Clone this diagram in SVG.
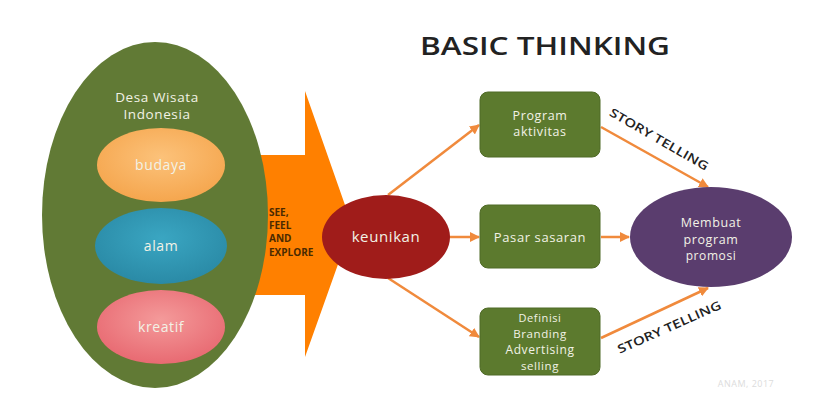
<svg xmlns="http://www.w3.org/2000/svg" width="832" height="412" viewBox="0 0 832 412">
<defs>
<style>
.t{font-family:"Open Sans","Liberation Sans",sans-serif;fill:#f2f2e6;text-anchor:middle;letter-spacing:0.6px}
.conn{stroke:#f08a3c;stroke-width:2.5;fill:none;marker-end:url(#ah)}
.box{fill:#5c7a2e;stroke:#4f6a26;stroke-width:1}
.lbl{font-family:"Open Sans","Liberation Sans",sans-serif;font-size:12px;font-weight:600;fill:#222}
.see{font-family:"Open Sans","Liberation Sans",sans-serif;font-size:10px;font-weight:bold;fill:#4a2a00}
</style>
<marker id="ah" viewBox="0 0 10 10" refX="9" refY="5" markerWidth="4" markerHeight="4" orient="auto" markerUnits="strokeWidth">
<path d="M0,0 L10,5 L0,10 z" fill="#f08a3c"/>
</marker>
<radialGradient id="gB" cx="50%" cy="40%" r="60%"><stop offset="0" stop-color="#fcc27a"/><stop offset="1" stop-color="#f5a64e"/></radialGradient>
<radialGradient id="gA" cx="50%" cy="40%" r="60%"><stop offset="0" stop-color="#3aa6c2"/><stop offset="1" stop-color="#2a8aa6"/></radialGradient>
<radialGradient id="gK" cx="50%" cy="40%" r="60%"><stop offset="0" stop-color="#f49a9a"/><stop offset="1" stop-color="#e86a72"/></radialGradient>
</defs>
<rect width="832" height="412" fill="#ffffff"/>
<text x="420" y="55" font-family="Open Sans, Liberation Sans, sans-serif" font-size="25" font-weight="600" fill="#222" textLength="250" lengthAdjust="spacingAndGlyphs">BASIC THINKING</text>

<g id="arrow-see">
<path d="M255,155 L305,155 L305,91 L352,225 L305,357 L305,295 L255,295 z" fill="#ff8000"/>
<text class="see" x="269" y="216">SEE,</text>
<text class="see" x="269" y="229">FEEL</text>
<text class="see" x="269" y="242">AND</text>
<text class="see" x="269" y="256">EXPLORE</text>
</g>

<g id="desa">
<ellipse cx="155" cy="215" rx="113" ry="173" fill="#617a35"/>
<text class="t" x="157" y="102" font-size="13.5">Desa Wisata</text>
<text class="t" x="157" y="119" font-size="13.5">Indonesia</text>
</g>
<g id="budaya">
<ellipse cx="161" cy="165" rx="64" ry="37" fill="url(#gB)"/>
<text class="t" x="161" y="170" font-size="14">budaya</text>
</g>
<g id="alam">
<ellipse cx="161" cy="246" rx="66" ry="38" fill="url(#gA)"/>
<text class="t" x="161" y="251" font-size="14">alam</text>
</g>
<g id="kreatif">
<ellipse cx="161" cy="327" rx="64" ry="37" fill="url(#gK)"/>
<text class="t" x="161" y="332" font-size="14">kreatif</text>
</g>

<g id="connectors">
<line class="conn" x1="388" y1="195" x2="479" y2="125"/>
<line class="conn" x1="450" y1="237" x2="479" y2="237"/>
<line class="conn" x1="388" y1="278" x2="479" y2="337"/>
<line class="conn" x1="601" y1="127" x2="708" y2="187"/>
<line class="conn" x1="601" y1="237" x2="629" y2="237"/>
<line class="conn" x1="601" y1="338" x2="708" y2="288"/>
<text class="lbl" transform="translate(657,143) rotate(30)" text-anchor="middle" textLength="112" lengthAdjust="spacingAndGlyphs">STORY TELLING</text>
<text class="lbl" transform="translate(671,331) rotate(-24)" text-anchor="middle" textLength="112" lengthAdjust="spacingAndGlyphs">STORY TELLING</text>
</g>

<g id="keunikan">
<ellipse cx="386" cy="237" rx="64" ry="42" fill="#a01c1a"/>
<text class="t" x="386" y="242" font-size="15">keunikan</text>
</g>

<g id="program">
<rect class="box" x="480" y="92" width="120" height="65" rx="8"/>
<text class="t" x="540" y="120" font-size="12.5">Program</text>
<text class="t" x="540" y="136" font-size="12.5">aktivitas</text>
</g>
<g id="pasar">
<rect class="box" x="480" y="205" width="120" height="63" rx="8"/>
<text class="t" x="540" y="242" font-size="13">Pasar sasaran</text>
</g>
<g id="definisi">
<rect class="box" x="480" y="308" width="120" height="67" rx="8"/>
<text class="t" x="540" y="322" font-size="11">Definisi</text>
<text class="t" x="540" y="338" font-size="11.5">Branding</text>
<text class="t" x="540" y="354" font-size="12">Advertising</text>
<text class="t" x="540" y="370" font-size="11.5">selling</text>
</g>
<g id="membuat">
<ellipse cx="711" cy="237" rx="81" ry="50" fill="#5a3d6e"/>
<text class="t" x="711" y="227" font-size="12.5">Membuat</text>
<text class="t" x="711" y="244" font-size="12.5">program</text>
<text class="t" x="711" y="260" font-size="12">promosi</text>
</g>
<text x="746" y="387" font-family="Open Sans, Liberation Sans, sans-serif" font-size="9" fill="#dcdcdc" text-anchor="middle" letter-spacing="0.5">ANAM, 2017</text>
</svg>
